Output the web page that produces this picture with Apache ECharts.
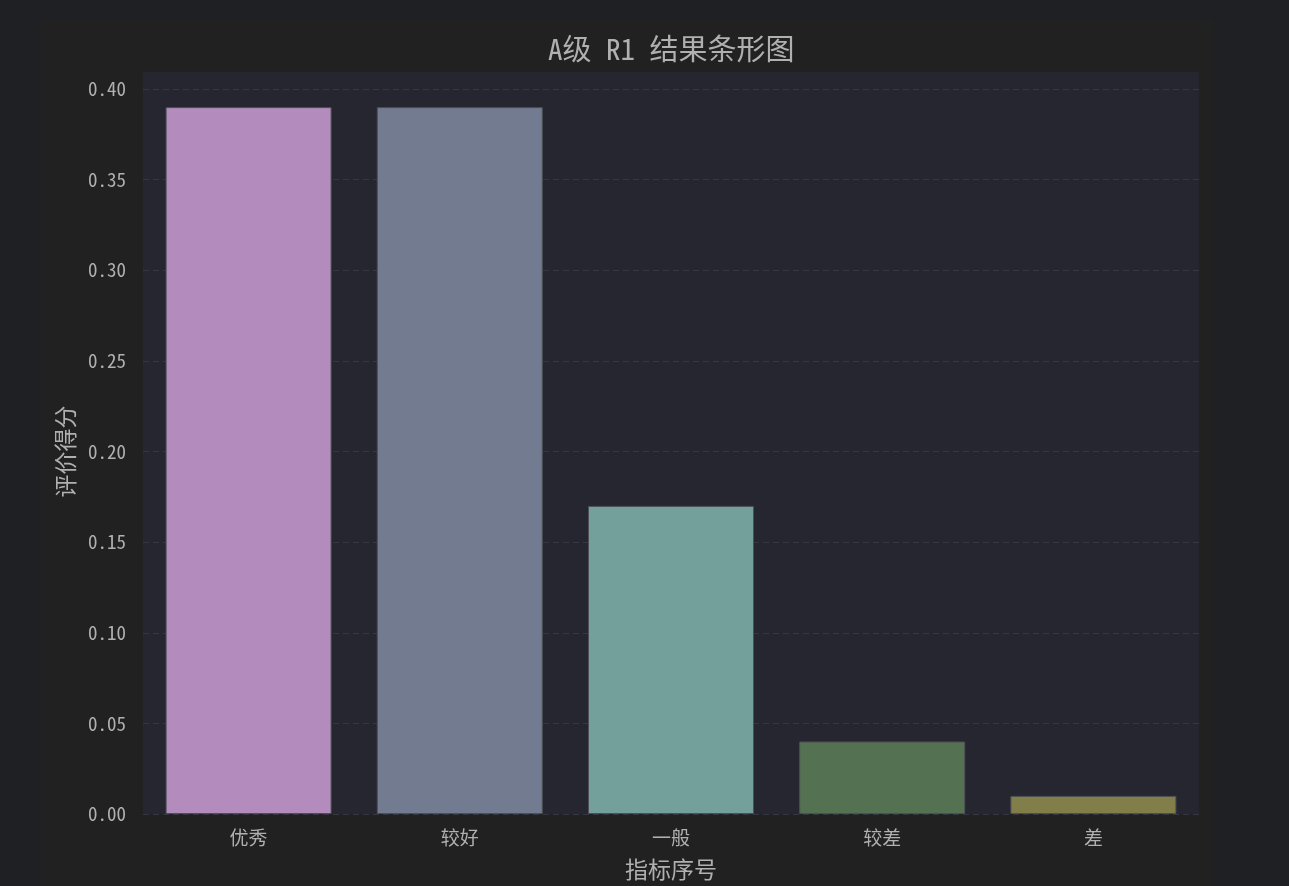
<!DOCTYPE html>
<html>
<head>
<meta charset="utf-8">
<script src="https://cdn.jsdelivr.net/npm/echarts@6/dist/echarts.min.js"></script>
<style>
  html, body { margin: 0; padding: 0; background: #1f2024; }
  #main { width: 1289px; height: 886px; }
</style>
</head>
<body>
<div id="main"></div>
<script>
var categories = ['优秀', '较好', '一般', '较差', '差'];
var scores = [0.39, 0.39, 0.17, 0.04, 0.01];
var barColors = ['#b48bbd', '#737b90', '#73a09b', '#547152', '#827e4a'];
var yTicks = { min: 0, max: 0.4, interval: 0.05 };

var font = "'Noto Sans Mono CJK SC', 'DejaVu Sans Mono', 'Noto Sans CJK SC', monospace";

var myChart = echarts.init(document.getElementById('main'));

var option = {
  backgroundColor: '#1f2024',
  textStyle: { fontFamily: font },
  graphic: [
    // figure area
    { type: 'rect', z: -10, shape: { x: 40, y: 20, width: 1173, height: 866 }, style: { fill: '#212121' } },
    // plot area (extends a little above 0.40)
    { type: 'rect', z: -9, shape: { x: 143, y: 72, width: 1056, height: 742 }, style: { fill: '#252630' } }
  ],
  title: {
    text: 'A级 R1 结果条形图',
    left: 543,
    top: 29,
    textStyle: { color: '#b0b0b0', fontSize: 29, fontWeight: 'normal', fontFamily: font }
  },
  grid: { left: 143, right: 90, top: 89, bottom: 72, outerBoundsMode: 'none', containLabel: false },
  xAxis: {
    type: 'category',
    data: categories,
    name: '指标序号',
    nameLocation: 'middle',
    nameGap: 44,
    nameTextStyle: { color: '#b0b0b0', fontSize: 23, fontFamily: font },
    axisLine: { show: false },
    axisTick: { show: false },
    axisLabel: { color: '#b0b0b0', fontSize: 19, margin: 14, fontFamily: font }
  },
  yAxis: {
    type: 'value',
    min: yTicks.min,
    max: yTicks.max,
    interval: yTicks.interval,
    name: '评价得分',
    nameLocation: 'middle',
    nameGap: 66,
    nameTextStyle: { color: '#b0b0b0', fontSize: 23, fontFamily: font },
    axisLine: { show: false },
    axisTick: { show: false },
    axisLabel: {
      color: '#b0b0b0',
      fontSize: 19,
      margin: 17,
      fontFamily: font,
      formatter: function (v) { return v.toFixed(2); }
    },
    splitLine: { lineStyle: { color: '#363744', type: [6, 4], width: 1 } }
  },
  series: [
    {
      type: 'bar',
      barWidth: 166,
      data: scores.map(function (v, i) {
        return { value: v, itemStyle: { color: barColors[i] } };
      }),
      itemStyle: { borderColor: '#4e4f55', borderWidth: 1 }
    }
  ]
};

option && myChart.setOption(option);
</script>
</body>
</html>
